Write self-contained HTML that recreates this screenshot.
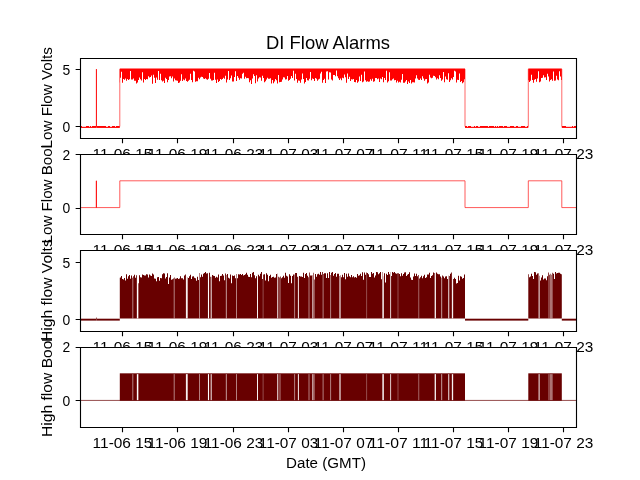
<!DOCTYPE html><html><head><meta charset="utf-8"><style>html,body{margin:0;padding:0;background:#fff;overflow:hidden}svg{display:block;will-change:transform}text{font-family:"Liberation Sans",sans-serif}</style></head><body>
<svg width="640" height="480" viewBox="0 0 640 480">
<rect x="0" y="0" width="640" height="480" fill="#fff"/>
<defs>
<clipPath id="c0"><rect x="80" y="57.6" width="496" height="80.34800000000001"/></clipPath>
<clipPath id="c1"><rect x="80" y="154.017" width="496" height="80.34800000000001"/></clipPath>
<clipPath id="c2"><rect x="80" y="250.435" width="496" height="80.34800000000001"/></clipPath>
<clipPath id="c3"><rect x="80" y="346.852" width="496" height="80.34800000000001"/></clipPath>
</defs>
<rect x="80" y="57.6" width="496" height="80.34800000000001" fill="#fff"/>
<g clip-path="url(#c0)"><rect x="80" y="126.02" width="16.400000000000006" height="1.9" fill="#ff0000"/><path d="M82 126.02h1v0.9h-1ZM83 126.02h1v0.9h-1ZM84 126.02h1v0.9h-1ZM85 126.02h1v0.9h-1ZM89 126.02h1v0.9h-1ZM91 126.02h1v0.9h-1Z" fill="#fff" opacity="0.8"/><rect x="96.4" y="126.02" width="23.39999999999999" height="1.9" fill="#ff0000"/><path d="M106 126.02h1v0.9h-1ZM107 126.02h1v0.9h-1ZM110 126.02h1v0.9h-1ZM111 126.02h1v0.9h-1ZM115 126.02h1v0.9h-1Z" fill="#fff" opacity="0.8"/><rect x="465.0" y="126.02" width="63.299999999999955" height="1.9" fill="#ff0000"/><path d="M467 126.02h1v0.9h-1ZM471 126.02h1v0.9h-1ZM472 126.02h1v0.9h-1ZM473 126.02h1v0.9h-1ZM475 126.02h1v0.9h-1ZM478 126.02h1v0.9h-1ZM479 126.02h1v0.9h-1ZM488 126.02h1v0.9h-1ZM494 126.02h1v0.9h-1ZM496 126.02h1v0.9h-1ZM498 126.02h1v0.9h-1ZM503 126.02h1v0.9h-1ZM507 126.02h1v0.9h-1ZM508 126.02h1v0.9h-1ZM509 126.02h1v0.9h-1ZM514 126.02h1v0.9h-1ZM515 126.02h1v0.9h-1ZM518 126.02h1v0.9h-1ZM519 126.02h1v0.9h-1ZM520 126.02h1v0.9h-1ZM525 126.02h1v0.9h-1ZM526 126.02h1v0.9h-1Z" fill="#fff" opacity="0.8"/><rect x="561.8" y="126.02" width="15.200000000000045" height="1.9" fill="#ff0000"/><path d="M566 126.02h1v0.9h-1ZM567 126.02h1v0.9h-1ZM568 126.02h1v0.9h-1ZM569 126.02h1v0.9h-1ZM570 126.02h1v0.9h-1ZM571 126.02h1v0.9h-1ZM573 126.02h1v0.9h-1Z" fill="#fff" opacity="0.8"/><path d="M119.80 68.48H120.00V82.57H119.80ZM120.00 68.48H121.00V77.80H120.00ZM121.00 68.48H122.00V71.87H121.00ZM122.00 68.48H123.00V82.86H122.00ZM123.00 68.48H124.00V79.03H123.00ZM124.00 68.48H125.00V79.79H124.00ZM125.00 68.48H126.00V78.44H125.00ZM126.00 68.48H127.00V80.69H126.00ZM127.00 68.48H128.00V79.11H127.00ZM128.00 68.48H129.00V80.05H128.00ZM129.00 68.48H130.00V79.36H129.00ZM130.00 68.48H131.00V70.91H130.00ZM131.00 68.48H132.00V79.48H131.00ZM132.00 68.48H133.00V79.41H132.00ZM133.00 68.48H134.00V78.50H133.00ZM134.00 68.48H135.00V80.65H134.00ZM135.00 68.48H136.00V80.64H135.00ZM136.00 68.48H137.00V83.45H136.00ZM137.00 68.48H138.00V82.62H137.00ZM138.00 68.48H139.00V80.08H138.00ZM139.00 68.48H140.00V77.44H139.00ZM140.00 68.48H141.00V79.23H140.00ZM141.00 68.48H142.00V80.53H141.00ZM142.00 68.48H143.00V72.22H142.00ZM143.00 68.48H144.00V82.43H143.00ZM144.00 68.48H145.00V79.08H144.00ZM145.00 68.48H146.00V79.92H145.00ZM146.00 68.48H147.00V79.05H146.00ZM147.00 68.48H148.00V79.35H147.00ZM148.00 68.48H149.00V76.35H148.00ZM149.00 68.48H150.00V77.50H149.00ZM150.00 68.48H151.00V77.04H150.00ZM151.00 68.48H152.00V75.53H151.00ZM152.00 68.48H153.00V83.73H152.00ZM153.00 68.48H154.00V74.81H153.00ZM154.00 68.48H155.00V77.82H154.00ZM155.00 68.48H156.00V82.88H155.00ZM156.00 68.48H157.00V77.41H156.00ZM157.00 68.48H158.00V79.71H157.00ZM158.00 68.48H159.00V70.95H158.00ZM159.00 68.48H160.00V79.99H159.00ZM160.00 68.48H161.00V73.66H160.00ZM161.00 68.48H162.00V80.28H161.00ZM162.00 68.48H163.00V81.38H162.00ZM163.00 68.48H164.00V80.86H163.00ZM164.00 68.48H165.00V82.94H164.00ZM165.00 68.48H166.00V77.77H165.00ZM166.00 68.48H167.00V78.90H166.00ZM167.00 68.48H168.00V82.34H167.00ZM168.00 68.48H169.00V80.00H168.00ZM169.00 68.48H170.00V76.46H169.00ZM170.00 68.48H171.00V76.15H170.00ZM171.00 68.48H172.00V78.34H171.00ZM172.00 68.48H173.00V76.43H172.00ZM173.00 68.48H174.00V81.43H173.00ZM174.00 68.48H175.00V78.52H174.00ZM175.00 68.48H176.00V80.29H175.00ZM176.00 68.48H177.00V80.51H176.00ZM177.00 68.48H178.00V80.70H177.00ZM178.00 68.48H179.00V83.05H178.00ZM179.00 68.48H180.00V82.44H179.00ZM180.00 68.48H181.00V80.76H180.00ZM181.00 68.48H182.00V74.26H181.00ZM182.00 68.48H183.00V81.12H182.00ZM183.00 68.48H184.00V79.46H183.00ZM184.00 68.48H185.00V80.21H184.00ZM185.00 68.48H186.00V78.54H185.00ZM186.00 68.48H187.00V80.97H186.00ZM187.00 68.48H188.00V81.70H187.00ZM188.00 68.48H189.00V80.77H188.00ZM189.00 68.48H190.00V79.82H189.00ZM190.00 68.48H191.00V73.83H190.00ZM191.00 68.48H192.00V80.00H191.00ZM192.00 68.48H193.00V82.13H192.00ZM193.00 68.48H194.00V70.72H193.00ZM194.00 68.48H195.00V71.59H194.00ZM195.00 68.48H196.00V81.80H195.00ZM196.00 68.48H197.00V81.21H196.00ZM197.00 68.48H198.00V81.17H197.00ZM198.00 68.48H199.00V77.70H198.00ZM199.00 68.48H200.00V79.20H199.00ZM200.00 68.48H201.00V77.60H200.00ZM201.00 68.48H202.00V76.68H201.00ZM202.00 68.48H203.00V76.94H202.00ZM203.00 68.48H204.00V78.58H203.00ZM204.00 68.48H205.00V78.99H204.00ZM205.00 68.48H206.00V78.24H205.00ZM206.00 68.48H207.00V79.21H206.00ZM207.00 68.48H208.00V79.70H207.00ZM208.00 68.48H209.00V78.63H208.00ZM209.00 68.48H210.00V73.01H209.00ZM210.00 68.48H211.00V78.83H210.00ZM211.00 68.48H212.00V80.51H211.00ZM212.00 68.48H213.00V80.56H212.00ZM213.00 68.48H214.00V80.01H213.00ZM214.00 68.48H215.00V72.68H214.00ZM215.00 68.48H216.00V79.76H215.00ZM216.00 68.48H217.00V83.08H216.00ZM217.00 68.48H218.00V79.43H217.00ZM218.00 68.48H219.00V82.01H218.00ZM219.00 68.48H220.00V81.07H219.00ZM220.00 68.48H221.00V78.97H220.00ZM221.00 68.48H222.00V79.82H221.00ZM222.00 68.48H223.00V78.88H222.00ZM223.00 68.48H224.00V77.75H223.00ZM224.00 68.48H225.00V78.87H224.00ZM225.00 68.48H226.00V75.66H225.00ZM226.00 68.48H227.00V82.38H226.00ZM227.00 68.48H228.00V79.59H227.00ZM228.00 68.48H229.00V71.03H228.00ZM229.00 68.48H230.00V79.89H229.00ZM230.00 68.48H231.00V78.37H230.00ZM231.00 68.48H232.00V75.60H231.00ZM232.00 68.48H233.00V81.49H232.00ZM233.00 68.48H234.00V81.38H233.00ZM234.00 68.48H235.00V76.91H234.00ZM235.00 68.48H236.00V71.16H235.00ZM236.00 68.48H237.00V80.95H236.00ZM237.00 68.48H238.00V76.01H237.00ZM238.00 68.48H239.00V77.74H238.00ZM239.00 68.48H240.00V79.65H239.00ZM240.00 68.48H241.00V78.25H240.00ZM241.00 68.48H242.00V78.61H241.00ZM242.00 68.48H243.00V73.67H242.00ZM243.00 68.48H244.00V72.73H243.00ZM244.00 68.48H245.00V78.76H244.00ZM245.00 68.48H246.00V76.77H245.00ZM246.00 68.48H247.00V78.27H246.00ZM247.00 68.48H248.00V77.90H247.00ZM248.00 68.48H249.00V78.14H248.00ZM249.00 68.48H250.00V82.13H249.00ZM250.00 68.48H251.00V80.21H250.00ZM251.00 68.48H252.00V83.96H251.00ZM252.00 68.48H253.00V78.55H252.00ZM253.00 68.48H254.00V74.25H253.00ZM254.00 68.48H255.00V76.11H254.00ZM255.00 68.48H256.00V83.34H255.00ZM256.00 68.48H257.00V75.19H256.00ZM257.00 68.48H258.00V81.62H257.00ZM258.00 68.48H259.00V78.46H258.00ZM259.00 68.48H260.00V77.25H259.00ZM260.00 68.48H261.00V77.51H260.00ZM261.00 68.48H262.00V80.81H261.00ZM262.00 68.48H263.00V75.74H262.00ZM263.00 68.48H264.00V77.89H263.00ZM264.00 68.48H265.00V82.33H264.00ZM265.00 68.48H266.00V81.24H265.00ZM266.00 68.48H267.00V79.46H266.00ZM267.00 68.48H268.00V77.66H267.00ZM268.00 68.48H269.00V78.66H268.00ZM269.00 68.48H270.00V78.74H269.00ZM270.00 68.48H271.00V78.33H270.00ZM271.00 68.48H272.00V83.56H271.00ZM272.00 68.48H273.00V80.02H272.00ZM273.00 68.48H274.00V83.29H273.00ZM274.00 68.48H275.00V81.55H274.00ZM275.00 68.48H276.00V79.09H275.00ZM276.00 68.48H277.00V80.28H276.00ZM277.00 68.48H278.00V83.46H277.00ZM278.00 68.48H279.00V75.09H278.00ZM279.00 68.48H280.00V82.23H279.00ZM280.00 68.48H281.00V81.97H280.00ZM281.00 68.48H282.00V81.86H281.00ZM282.00 68.48H283.00V79.54H282.00ZM283.00 68.48H284.00V77.15H283.00ZM284.00 68.48H285.00V77.43H284.00ZM285.00 68.48H286.00V79.43H285.00ZM286.00 68.48H287.00V79.37H286.00ZM287.00 68.48H288.00V76.12H287.00ZM288.00 68.48H289.00V80.64H288.00ZM289.00 68.48H290.00V80.12H289.00ZM290.00 68.48H291.00V78.71H290.00ZM291.00 68.48H292.00V75.91H291.00ZM292.00 68.48H293.00V77.97H292.00ZM293.00 68.48H294.00V70.68H293.00ZM294.00 68.48H295.00V80.38H294.00ZM295.00 68.48H296.00V73.66H295.00ZM296.00 68.48H297.00V78.97H296.00ZM297.00 68.48H298.00V82.72H297.00ZM298.00 68.48H299.00V80.59H298.00ZM299.00 68.48H300.00V80.68H299.00ZM300.00 68.48H301.00V82.85H300.00ZM301.00 68.48H302.00V79.41H301.00ZM302.00 68.48H303.00V73.62H302.00ZM303.00 68.48H304.00V78.88H303.00ZM304.00 68.48H305.00V83.57H304.00ZM305.00 68.48H306.00V81.91H305.00ZM306.00 68.48H307.00V77.94H306.00ZM307.00 68.48H308.00V80.31H307.00ZM308.00 68.48H309.00V80.49H308.00ZM309.00 68.48H310.00V78.69H309.00ZM310.00 68.48H311.00V72.02H310.00ZM311.00 68.48H312.00V80.22H311.00ZM312.00 68.48H313.00V78.43H312.00ZM313.00 68.48H314.00V79.11H313.00ZM314.00 68.48H315.00V80.95H314.00ZM315.00 68.48H316.00V78.10H315.00ZM316.00 68.48H317.00V78.83H316.00ZM317.00 68.48H318.00V80.80H317.00ZM318.00 68.48H319.00V79.47H318.00ZM319.00 68.48H320.00V78.69H319.00ZM320.00 68.48H321.00V73.49H320.00ZM321.00 68.48H322.00V71.73H321.00ZM322.00 68.48H323.00V82.70H322.00ZM323.00 68.48H324.00V79.96H323.00ZM324.00 68.48H325.00V78.77H324.00ZM325.00 68.48H326.00V82.88H325.00ZM326.00 68.48H327.00V71.61H326.00ZM327.00 68.48H328.00V71.24H327.00ZM328.00 68.48H329.00V79.62H328.00ZM329.00 68.48H330.00V72.36H329.00ZM330.00 68.48H331.00V72.48H330.00ZM331.00 68.48H332.00V79.43H331.00ZM332.00 68.48H333.00V80.59H332.00ZM333.00 68.48H334.00V75.08H333.00ZM334.00 68.48H335.00V74.92H334.00ZM335.00 68.48H336.00V76.31H335.00ZM336.00 68.48H337.00V70.59H336.00ZM337.00 68.48H338.00V76.36H337.00ZM338.00 68.48H339.00V78.23H338.00ZM339.00 68.48H340.00V79.98H339.00ZM340.00 68.48H341.00V78.48H340.00ZM341.00 68.48H342.00V80.15H341.00ZM342.00 68.48H343.00V77.66H342.00ZM343.00 68.48H344.00V78.20H343.00ZM344.00 68.48H345.00V74.62H344.00ZM345.00 68.48H346.00V77.27H345.00ZM346.00 68.48H347.00V82.74H346.00ZM347.00 68.48H348.00V73.49H347.00ZM348.00 68.48H349.00V79.11H348.00ZM349.00 68.48H350.00V76.71H349.00ZM350.00 68.48H351.00V81.01H350.00ZM351.00 68.48H352.00V79.36H351.00ZM352.00 68.48H353.00V79.60H352.00ZM353.00 68.48H354.00V78.99H353.00ZM354.00 68.48H355.00V81.95H354.00ZM355.00 68.48H356.00V82.23H355.00ZM356.00 68.48H357.00V79.99H356.00ZM357.00 68.48H358.00V82.78H357.00ZM358.00 68.48H359.00V81.56H358.00ZM359.00 68.48H360.00V76.39H359.00ZM360.00 68.48H361.00V81.00H360.00ZM361.00 68.48H362.00V74.86H361.00ZM362.00 68.48H363.00V82.14H362.00ZM363.00 68.48H364.00V81.62H363.00ZM364.00 68.48H365.00V71.47H364.00ZM365.00 68.48H366.00V80.28H365.00ZM366.00 68.48H367.00V81.73H366.00ZM367.00 68.48H368.00V81.13H367.00ZM368.00 68.48H369.00V81.80H368.00ZM369.00 68.48H370.00V81.57H369.00ZM370.00 68.48H371.00V79.35H370.00ZM371.00 68.48H372.00V80.64H371.00ZM372.00 68.48H373.00V78.67H372.00ZM373.00 68.48H374.00V81.63H373.00ZM374.00 68.48H375.00V81.33H374.00ZM375.00 68.48H376.00V77.97H375.00ZM376.00 68.48H377.00V77.99H376.00ZM377.00 68.48H378.00V79.36H377.00ZM378.00 68.48H379.00V78.47H378.00ZM379.00 68.48H380.00V81.88H379.00ZM380.00 68.48H381.00V78.56H380.00ZM381.00 68.48H382.00V79.37H381.00ZM382.00 68.48H383.00V76.97H382.00ZM383.00 68.48H384.00V82.17H383.00ZM384.00 68.48H385.00V78.07H384.00ZM385.00 68.48H386.00V79.95H385.00ZM386.00 68.48H387.00V70.83H386.00ZM387.00 68.48H388.00V82.48H387.00ZM388.00 68.48H389.00V81.23H388.00ZM389.00 68.48H390.00V72.32H389.00ZM390.00 68.48H391.00V80.49H390.00ZM391.00 68.48H392.00V80.51H391.00ZM392.00 68.48H393.00V79.27H392.00ZM393.00 68.48H394.00V78.60H393.00ZM394.00 68.48H395.00V80.21H394.00ZM395.00 68.48H396.00V79.92H395.00ZM396.00 68.48H397.00V82.57H396.00ZM397.00 68.48H398.00V80.69H397.00ZM398.00 68.48H399.00V82.40H398.00ZM399.00 68.48H400.00V81.77H399.00ZM400.00 68.48H401.00V82.54H400.00ZM401.00 68.48H402.00V79.82H401.00ZM402.00 68.48H403.00V74.00H402.00ZM403.00 68.48H404.00V82.85H403.00ZM404.00 68.48H405.00V82.74H404.00ZM405.00 68.48H406.00V81.48H405.00ZM406.00 68.48H407.00V80.03H406.00ZM407.00 68.48H408.00V83.89H407.00ZM408.00 68.48H409.00V81.50H408.00ZM409.00 68.48H410.00V82.92H409.00ZM410.00 68.48H411.00V79.90H410.00ZM411.00 68.48H412.00V83.43H411.00ZM412.00 68.48H413.00V82.25H412.00ZM413.00 68.48H414.00V82.36H413.00ZM414.00 68.48H415.00V82.44H414.00ZM415.00 68.48H416.00V78.41H415.00ZM416.00 68.48H417.00V75.26H416.00ZM417.00 68.48H418.00V78.48H417.00ZM418.00 68.48H419.00V79.79H418.00ZM419.00 68.48H420.00V80.06H419.00ZM420.00 68.48H421.00V78.43H420.00ZM421.00 68.48H422.00V79.92H421.00ZM422.00 68.48H423.00V76.29H422.00ZM423.00 68.48H424.00V78.40H423.00ZM424.00 68.48H425.00V80.76H424.00ZM425.00 68.48H426.00V79.18H425.00ZM426.00 68.48H427.00V78.99H426.00ZM427.00 68.48H428.00V83.60H427.00ZM428.00 68.48H429.00V82.38H428.00ZM429.00 68.48H430.00V74.68H429.00ZM430.00 68.48H431.00V77.57H430.00ZM431.00 68.48H432.00V78.22H431.00ZM432.00 68.48H433.00V77.64H432.00ZM433.00 68.48H434.00V75.76H433.00ZM434.00 68.48H435.00V75.96H434.00ZM435.00 68.48H436.00V77.29H435.00ZM436.00 68.48H437.00V79.50H436.00ZM437.00 68.48H438.00V78.25H437.00ZM438.00 68.48H439.00V79.17H438.00ZM439.00 68.48H440.00V75.28H439.00ZM440.00 68.48H441.00V78.06H440.00ZM441.00 68.48H442.00V80.87H441.00ZM442.00 68.48H443.00V79.41H442.00ZM443.00 68.48H444.00V71.98H443.00ZM444.00 68.48H445.00V82.27H444.00ZM445.00 68.48H446.00V76.46H445.00ZM446.00 68.48H447.00V79.14H446.00ZM447.00 68.48H448.00V79.80H447.00ZM448.00 68.48H449.00V73.28H448.00ZM449.00 68.48H450.00V81.97H449.00ZM450.00 68.48H451.00V80.28H450.00ZM451.00 68.48H452.00V78.25H451.00ZM452.00 68.48H453.00V79.62H452.00ZM453.00 68.48H454.00V77.06H453.00ZM454.00 68.48H455.00V70.71H454.00ZM455.00 68.48H456.00V71.48H455.00ZM456.00 68.48H457.00V82.43H456.00ZM457.00 68.48H458.00V79.68H457.00ZM458.00 68.48H459.00V79.91H458.00ZM459.00 68.48H460.00V73.47H459.00ZM460.00 68.48H461.00V81.88H460.00ZM461.00 68.48H462.00V80.89H461.00ZM462.00 68.48H463.00V83.23H462.00ZM463.00 68.48H464.00V82.31H463.00ZM464.00 68.48H465.00V79.34H464.00ZM528.30 68.48H529.00V80.19H528.30ZM529.00 68.48H530.00V81.92H529.00ZM530.00 68.48H531.00V80.83H530.00ZM531.00 68.48H532.00V74.72H531.00ZM532.00 68.48H533.00V80.11H532.00ZM533.00 68.48H534.00V82.73H533.00ZM534.00 68.48H535.00V79.71H534.00ZM535.00 68.48H536.00V78.99H535.00ZM536.00 68.48H537.00V81.68H536.00ZM537.00 68.48H538.00V78.58H537.00ZM538.00 68.48H539.00V71.35H538.00ZM539.00 68.48H540.00V82.14H539.00ZM540.00 68.48H541.00V81.55H540.00ZM541.00 68.48H542.00V78.11H541.00ZM542.00 68.48H543.00V77.68H542.00ZM543.00 68.48H544.00V75.25H543.00ZM544.00 68.48H545.00V77.50H544.00ZM545.00 68.48H546.00V77.13H545.00ZM546.00 68.48H547.00V79.93H546.00ZM547.00 68.48H548.00V73.84H547.00ZM548.00 68.48H549.00V76.45H548.00ZM549.00 68.48H550.00V81.44H549.00ZM550.00 68.48H551.00V79.93H550.00ZM551.00 68.48H552.00V79.24H551.00ZM552.00 68.48H553.00V80.64H552.00ZM553.00 68.48H554.00V71.46H553.00ZM554.00 68.48H555.00V80.79H554.00ZM555.00 68.48H556.00V80.44H555.00ZM556.00 68.48H557.00V75.80H556.00ZM557.00 68.48H558.00V79.38H557.00ZM558.00 68.48H559.00V80.33H558.00ZM559.00 68.48H560.00V71.33H559.00ZM560.00 68.48H561.00V76.42H560.00ZM561.00 68.48H561.80V79.89H561.00Z" fill="#ff0000"/><path d="M119.8 126.46971428571429V69.07828571428571" stroke="#ff0000" stroke-width="0.6" fill="none"/><path d="M465.0 126.46971428571429V69.07828571428571" stroke="#ff0000" stroke-width="0.6" fill="none"/><path d="M528.3 126.46971428571429V69.07828571428571" stroke="#ff0000" stroke-width="0.6" fill="none"/><path d="M561.8 126.46971428571429V69.07828571428571" stroke="#ff0000" stroke-width="0.6" fill="none"/><path d="M96.4 126.46971428571429V69.07828571428571" stroke="#ff0000" stroke-width="1" fill="none"/></g>
<path d="M80.5 58.5H576.5M80.5 138.5H576.5M80.5 58.5V138.5M576.5 58.5V138.5" stroke="#000" stroke-width="1.11" fill="none" stroke-linecap="square"/>
<path d="M122.5 138.5v4.86M177.5 138.5v4.86M233.5 138.5v4.86M288.5 138.5v4.86M343.5 138.5v4.86M398.5 138.5v4.86M453.5 138.5v4.86M508.5 138.5v4.86M563.5 138.5v4.86" stroke="#000" stroke-width="1.11" fill="none"/>
<path d="M80.5 126.5h-4.86M80.5 69.5h-4.86" stroke="#000" stroke-width="1.11" fill="none"/>
<text x="122.5" y="158.668" font-size="13.889" text-anchor="middle" textLength="59.74" lengthAdjust="spacingAndGlyphs">11-06 15</text>
<text x="177.5" y="158.668" font-size="13.889" text-anchor="middle" textLength="59.88" lengthAdjust="spacingAndGlyphs">11-06 19</text>
<text x="233.5" y="158.668" font-size="13.889" text-anchor="middle" textLength="59.62" lengthAdjust="spacingAndGlyphs">11-06 23</text>
<text x="288.5" y="158.668" font-size="13.889" text-anchor="middle" textLength="59.5" lengthAdjust="spacingAndGlyphs">11-07 03</text>
<text x="343.5" y="158.668" font-size="13.889" text-anchor="middle" textLength="59.5" lengthAdjust="spacingAndGlyphs">11-07 07</text>
<text x="398.5" y="158.668" font-size="13.889" text-anchor="middle" textLength="59.75" lengthAdjust="spacingAndGlyphs">11-07 11</text>
<text x="453.5" y="158.668" font-size="13.889" text-anchor="middle" textLength="59.62" lengthAdjust="spacingAndGlyphs">11-07 15</text>
<text x="508.5" y="158.668" font-size="13.889" text-anchor="middle" textLength="59.76" lengthAdjust="spacingAndGlyphs">11-07 19</text>
<text x="563.5" y="158.668" font-size="13.889" text-anchor="middle" textLength="59.5" lengthAdjust="spacingAndGlyphs">11-07 23</text>
<text x="70.3" y="132.0697142857143" font-size="13.889" text-anchor="end">0</text>
<text x="70.3" y="74.6782857142857" font-size="13.889" text-anchor="end">5</text>
<text x="0" y="0" font-size="13.889" text-anchor="middle" textLength="101.25" lengthAdjust="spacingAndGlyphs" transform="translate(51.9 97.774) rotate(-90)">Low Flow Volts</text>
<text x="328" y="48.6" font-size="17.8" text-anchor="middle" textLength="123.875" lengthAdjust="spacingAndGlyphs">DI Flow Alarms</text>
<rect x="80" y="154.017" width="496" height="80.34800000000001" fill="#fff"/>
<g clip-path="url(#c1)"><path d="M80 207.58233333333334H96.4V180.79966666666667V207.58233333333334H119.8V180.79966666666667H465.0V207.58233333333334H528.3V180.79966666666667H561.8V207.58233333333334H577" stroke="#ff0000" stroke-width="0.65" fill="none"/><path d="M96.4 207.58233333333334V180.79966666666667" stroke="#ff0000" stroke-width="0.5" fill="none"/></g>
<path d="M80.5 154.5H576.5M80.5 234.5H576.5M80.5 154.5V234.5M576.5 154.5V234.5" stroke="#000" stroke-width="1.11" fill="none" stroke-linecap="square"/>
<path d="M122.5 234.5v4.86M177.5 234.5v4.86M233.5 234.5v4.86M288.5 234.5v4.86M343.5 234.5v4.86M398.5 234.5v4.86M453.5 234.5v4.86M508.5 234.5v4.86M563.5 234.5v4.86" stroke="#000" stroke-width="1.11" fill="none"/>
<path d="M80.5 208.5h-4.86M80.5 154.5h-4.86" stroke="#000" stroke-width="1.11" fill="none"/>
<text x="122.5" y="255.085" font-size="13.889" text-anchor="middle" textLength="59.74" lengthAdjust="spacingAndGlyphs">11-06 15</text>
<text x="177.5" y="255.085" font-size="13.889" text-anchor="middle" textLength="59.88" lengthAdjust="spacingAndGlyphs">11-06 19</text>
<text x="233.5" y="255.085" font-size="13.889" text-anchor="middle" textLength="59.62" lengthAdjust="spacingAndGlyphs">11-06 23</text>
<text x="288.5" y="255.085" font-size="13.889" text-anchor="middle" textLength="59.5" lengthAdjust="spacingAndGlyphs">11-07 03</text>
<text x="343.5" y="255.085" font-size="13.889" text-anchor="middle" textLength="59.5" lengthAdjust="spacingAndGlyphs">11-07 07</text>
<text x="398.5" y="255.085" font-size="13.889" text-anchor="middle" textLength="59.75" lengthAdjust="spacingAndGlyphs">11-07 11</text>
<text x="453.5" y="255.085" font-size="13.889" text-anchor="middle" textLength="59.62" lengthAdjust="spacingAndGlyphs">11-07 15</text>
<text x="508.5" y="255.085" font-size="13.889" text-anchor="middle" textLength="59.76" lengthAdjust="spacingAndGlyphs">11-07 19</text>
<text x="563.5" y="255.085" font-size="13.889" text-anchor="middle" textLength="59.5" lengthAdjust="spacingAndGlyphs">11-07 23</text>
<text x="70.3" y="213.18233333333333" font-size="13.889" text-anchor="end">0</text>
<text x="70.3" y="159.617" font-size="13.889" text-anchor="end">2</text>
<text x="0" y="0" font-size="13.889" text-anchor="middle" textLength="98.38" lengthAdjust="spacingAndGlyphs" transform="translate(51.9 194.191) rotate(-90)">Low Flow Bool</text>
<rect x="80" y="250.435" width="496" height="80.34800000000001" fill="#fff"/>
<g clip-path="url(#c2)"><rect x="80" y="318.70471428571426" width="16.400000000000006" height="1.9" fill="#680000"/><rect x="96.4" y="318.70471428571426" width="23.39999999999999" height="1.9" fill="#680000"/><rect x="465.0" y="318.70471428571426" width="63.299999999999955" height="1.9" fill="#680000"/><rect x="561.8" y="318.70471428571426" width="15.200000000000045" height="1.9" fill="#680000"/><path d="M95.9 318.70L96.4 317.10L96.9 318.70Z" fill="#680000"/><path d="M119.80 277.81H120.00V318.50H119.80ZM120.00 277.48H121.00V318.50H120.00ZM121.00 275.88H122.00V318.50H121.00ZM122.00 279.10H123.00V318.50H122.00ZM123.00 279.51H124.00V318.50H123.00ZM124.00 278.04H125.00V318.50H124.00ZM125.00 280.43H126.00V318.50H125.00ZM126.00 274.35H127.00V318.50H126.00ZM127.00 278.75H128.00V318.50H127.00ZM128.00 276.18H129.00V318.50H128.00ZM129.00 275.12H130.00V318.50H129.00ZM130.00 278.87H131.00V318.50H130.00ZM131.00 275.44H132.00V318.50H131.00ZM132.00 277.65H133.00V318.50H132.00ZM133.00 276.27H134.00V318.50H133.00ZM134.00 274.75H135.00V318.50H134.00ZM135.00 277.69H136.00V318.50H135.00ZM136.00 275.32H137.00V318.50H136.00ZM137.00 280.59H138.00V318.50H137.00ZM138.00 283.21H139.00V318.50H138.00ZM139.00 275.15H140.00V318.50H139.00ZM140.00 277.14H141.00V318.50H140.00ZM141.00 277.53H142.00V318.50H141.00ZM142.00 274.53H143.00V318.50H142.00ZM143.00 274.88H144.00V318.50H143.00ZM144.00 275.49H145.00V318.50H144.00ZM145.00 275.50H146.00V318.50H145.00ZM146.00 274.17H147.00V318.50H146.00ZM147.00 274.55H148.00V318.50H147.00ZM148.00 277.45H149.00V318.50H148.00ZM149.00 274.44H150.00V318.50H149.00ZM150.00 275.38H151.00V318.50H150.00ZM151.00 276.04H152.00V318.50H151.00ZM152.00 273.46H153.00V318.50H152.00ZM153.00 274.51H154.00V318.50H153.00ZM154.00 278.47H155.00V318.50H154.00ZM155.00 278.78H156.00V318.50H155.00ZM156.00 281.35H157.00V318.50H156.00ZM157.00 277.22H158.00V318.50H157.00ZM158.00 277.12H159.00V318.50H158.00ZM159.00 280.79H160.00V318.50H159.00ZM160.00 278.07H161.00V318.50H160.00ZM161.00 278.13H162.00V318.50H161.00ZM162.00 274.16H163.00V318.50H162.00ZM163.00 273.25H164.00V318.50H163.00ZM164.00 273.38H165.00V318.50H164.00ZM165.00 278.56H166.00V318.50H165.00ZM166.00 276.89H167.00V318.50H166.00ZM167.00 273.36H168.00V318.50H167.00ZM168.00 284.09H169.00V318.50H168.00ZM169.00 277.61H170.00V318.50H169.00ZM170.00 275.01H171.00V318.50H170.00ZM171.00 279.63H172.00V318.50H171.00ZM172.00 279.31H173.00V318.50H172.00ZM173.00 278.47H174.00V318.50H173.00ZM174.00 277.57H175.00V318.50H174.00ZM175.00 278.79H176.00V318.50H175.00ZM176.00 278.52H177.00V318.50H176.00ZM177.00 278.12H178.00V318.50H177.00ZM178.00 279.11H179.00V318.50H178.00ZM179.00 278.59H180.00V318.50H179.00ZM180.00 276.35H181.00V318.50H180.00ZM181.00 278.20H182.00V318.50H181.00ZM182.00 278.26H183.00V318.50H182.00ZM183.00 279.57H184.00V318.50H183.00ZM184.00 275.62H185.00V318.50H184.00ZM185.00 274.58H186.00V318.50H185.00ZM186.00 276.31H187.00V318.50H186.00ZM187.00 277.27H188.00V318.50H187.00ZM188.00 277.96H189.00V318.50H188.00ZM189.00 276.34H190.00V318.50H189.00ZM190.00 274.73H191.00V318.50H190.00ZM191.00 278.88H192.00V318.50H191.00ZM192.00 276.42H193.00V318.50H192.00ZM193.00 276.14H194.00V318.50H193.00ZM194.00 277.65H195.00V318.50H194.00ZM195.00 278.35H196.00V318.50H195.00ZM196.00 280.63H197.00V318.50H196.00ZM197.00 276.75H198.00V318.50H197.00ZM198.00 280.02H199.00V318.50H198.00ZM199.00 272.88H200.00V318.50H199.00ZM200.00 277.37H201.00V318.50H200.00ZM201.00 274.56H202.00V318.50H201.00ZM202.00 276.74H203.00V318.50H202.00ZM203.00 273.78H204.00V318.50H203.00ZM204.00 273.10H205.00V318.50H204.00ZM205.00 272.00H206.00V318.50H205.00ZM206.00 273.46H207.00V318.50H206.00ZM207.00 273.25H208.00V318.50H207.00ZM208.00 272.25H209.00V318.50H208.00ZM209.00 272.72H210.00V318.50H209.00ZM210.00 276.85H211.00V318.50H210.00ZM211.00 276.68H212.00V318.50H211.00ZM212.00 275.04H213.00V318.50H212.00ZM213.00 275.79H214.00V318.50H213.00ZM214.00 275.89H215.00V318.50H214.00ZM215.00 277.73H216.00V318.50H215.00ZM216.00 276.65H217.00V318.50H216.00ZM217.00 277.44H218.00V318.50H217.00ZM218.00 274.52H219.00V318.50H218.00ZM219.00 281.23H220.00V318.50H219.00ZM220.00 276.01H221.00V318.50H220.00ZM221.00 275.75H222.00V318.50H221.00ZM222.00 273.92H223.00V318.50H222.00ZM223.00 275.45H224.00V318.50H223.00ZM224.00 280.36H225.00V318.50H224.00ZM225.00 273.54H226.00V318.50H225.00ZM226.00 275.02H227.00V318.50H226.00ZM227.00 274.05H228.00V318.50H227.00ZM228.00 277.63H229.00V318.50H228.00ZM229.00 278.44H230.00V318.50H229.00ZM230.00 274.46H231.00V318.50H230.00ZM231.00 283.35H232.00V318.50H231.00ZM232.00 275.38H233.00V318.50H232.00ZM233.00 275.88H234.00V318.50H233.00ZM234.00 275.47H235.00V318.50H234.00ZM235.00 278.15H236.00V318.50H235.00ZM236.00 273.92H237.00V318.50H236.00ZM237.00 278.35H238.00V318.50H237.00ZM238.00 274.30H239.00V318.50H238.00ZM239.00 274.52H240.00V318.50H239.00ZM240.00 274.05H241.00V318.50H240.00ZM241.00 274.96H242.00V318.50H241.00ZM242.00 273.93H243.00V318.50H242.00ZM243.00 275.43H244.00V318.50H243.00ZM244.00 275.10H245.00V318.50H244.00ZM245.00 274.37H246.00V318.50H245.00ZM246.00 272.87H247.00V318.50H246.00ZM247.00 274.87H248.00V318.50H247.00ZM248.00 276.78H249.00V318.50H248.00ZM249.00 276.89H250.00V318.50H249.00ZM250.00 274.00H251.00V318.50H250.00ZM251.00 277.14H252.00V318.50H251.00ZM252.00 272.72H253.00V318.50H252.00ZM253.00 272.00H254.00V318.50H253.00ZM254.00 275.36H255.00V318.50H254.00ZM255.00 278.19H256.00V318.50H255.00ZM256.00 276.33H257.00V318.50H256.00ZM257.00 273.73H258.00V318.50H257.00ZM258.00 274.78H259.00V318.50H258.00ZM259.00 276.24H260.00V318.50H259.00ZM260.00 273.85H261.00V318.50H260.00ZM261.00 272.00H262.00V318.50H261.00ZM262.00 279.05H263.00V318.50H262.00ZM263.00 274.54H264.00V318.50H263.00ZM264.00 274.28H265.00V318.50H264.00ZM265.00 280.54H266.00V318.50H265.00ZM266.00 273.20H267.00V318.50H266.00ZM267.00 274.66H268.00V318.50H267.00ZM268.00 281.18H269.00V318.50H268.00ZM269.00 276.10H270.00V318.50H269.00ZM270.00 274.68H271.00V318.50H270.00ZM271.00 277.64H272.00V318.50H271.00ZM272.00 276.90H273.00V318.50H272.00ZM273.00 276.83H274.00V318.50H273.00ZM274.00 277.71H275.00V318.50H274.00ZM275.00 277.42H276.00V318.50H275.00ZM276.00 274.01H277.00V318.50H276.00ZM277.00 273.54H278.00V318.50H277.00ZM278.00 276.85H279.00V318.50H278.00ZM279.00 277.61H280.00V318.50H279.00ZM280.00 276.39H281.00V318.50H280.00ZM281.00 278.33H282.00V318.50H281.00ZM282.00 277.30H283.00V318.50H282.00ZM283.00 275.77H284.00V318.50H283.00ZM284.00 277.73H285.00V318.50H284.00ZM285.00 272.69H286.00V318.50H285.00ZM286.00 275.72H287.00V318.50H286.00ZM287.00 276.49H288.00V318.50H287.00ZM288.00 283.05H289.00V318.50H288.00ZM289.00 274.17H290.00V318.50H289.00ZM290.00 275.79H291.00V318.50H290.00ZM291.00 283.23H292.00V318.50H291.00ZM292.00 275.91H293.00V318.50H292.00ZM293.00 274.46H294.00V318.50H293.00ZM294.00 274.56H295.00V318.50H294.00ZM295.00 272.88H296.00V318.50H295.00ZM296.00 273.02H297.00V318.50H296.00ZM297.00 276.84H298.00V318.50H297.00ZM298.00 276.81H299.00V318.50H298.00ZM299.00 275.97H300.00V318.50H299.00ZM300.00 276.52H301.00V318.50H300.00ZM301.00 276.57H302.00V318.50H301.00ZM302.00 276.89H303.00V318.50H302.00ZM303.00 272.66H304.00V318.50H303.00ZM304.00 278.00H305.00V318.50H304.00ZM305.00 273.89H306.00V318.50H305.00ZM306.00 272.99H307.00V318.50H306.00ZM307.00 275.64H308.00V318.50H307.00ZM308.00 277.32H309.00V318.50H308.00ZM309.00 272.53H310.00V318.50H309.00ZM310.00 275.58H311.00V318.50H310.00ZM311.00 275.49H312.00V318.50H311.00ZM312.00 275.31H313.00V318.50H312.00ZM313.00 272.82H314.00V318.50H313.00ZM314.00 279.45H315.00V318.50H314.00ZM315.00 273.90H316.00V318.50H315.00ZM316.00 276.79H317.00V318.50H316.00ZM317.00 274.23H318.00V318.50H317.00ZM318.00 273.67H319.00V318.50H318.00ZM319.00 274.85H320.00V318.50H319.00ZM320.00 272.00H321.00V318.50H320.00ZM321.00 274.70H322.00V318.50H321.00ZM322.00 272.02H323.00V318.50H322.00ZM323.00 273.97H324.00V318.50H323.00ZM324.00 273.28H325.00V318.50H324.00ZM325.00 273.36H326.00V318.50H325.00ZM326.00 278.02H327.00V318.50H326.00ZM327.00 273.31H328.00V318.50H327.00ZM328.00 278.08H329.00V318.50H328.00ZM329.00 272.00H330.00V318.50H329.00ZM330.00 274.94H331.00V318.50H330.00ZM331.00 272.72H332.00V318.50H331.00ZM332.00 272.00H333.00V318.50H332.00ZM333.00 275.79H334.00V318.50H333.00ZM334.00 273.98H335.00V318.50H334.00ZM335.00 273.10H336.00V318.50H335.00ZM336.00 276.77H337.00V318.50H336.00ZM337.00 273.80H338.00V318.50H337.00ZM338.00 273.79H339.00V318.50H338.00ZM339.00 276.05H340.00V318.50H339.00ZM340.00 275.34H341.00V318.50H340.00ZM341.00 277.32H342.00V318.50H341.00ZM342.00 274.68H343.00V318.50H342.00ZM343.00 277.16H344.00V318.50H343.00ZM344.00 272.92H345.00V318.50H344.00ZM345.00 279.20H346.00V318.50H345.00ZM346.00 273.85H347.00V318.50H346.00ZM347.00 276.63H348.00V318.50H347.00ZM348.00 273.48H349.00V318.50H348.00ZM349.00 276.34H350.00V318.50H349.00ZM350.00 277.16H351.00V318.50H350.00ZM351.00 274.93H352.00V318.50H351.00ZM352.00 277.19H353.00V318.50H352.00ZM353.00 276.31H354.00V318.50H353.00ZM354.00 277.50H355.00V318.50H354.00ZM355.00 276.96H356.00V318.50H355.00ZM356.00 277.84H357.00V318.50H356.00ZM357.00 274.04H358.00V318.50H357.00ZM358.00 275.70H359.00V318.50H358.00ZM359.00 275.23H360.00V318.50H359.00ZM360.00 273.77H361.00V318.50H360.00ZM361.00 275.99H362.00V318.50H361.00ZM362.00 272.31H363.00V318.50H362.00ZM363.00 279.71H364.00V318.50H363.00ZM364.00 272.56H365.00V318.50H364.00ZM365.00 274.77H366.00V318.50H365.00ZM366.00 272.59H367.00V318.50H366.00ZM367.00 273.08H368.00V318.50H367.00ZM368.00 274.30H369.00V318.50H368.00ZM369.00 276.94H370.00V318.50H369.00ZM370.00 277.00H371.00V318.50H370.00ZM371.00 272.00H372.00V318.50H371.00ZM372.00 273.71H373.00V318.50H372.00ZM373.00 272.98H374.00V318.50H373.00ZM374.00 277.48H375.00V318.50H374.00ZM375.00 275.41H376.00V318.50H375.00ZM376.00 272.11H377.00V318.50H376.00ZM377.00 272.27H378.00V318.50H377.00ZM378.00 274.19H379.00V318.50H378.00ZM379.00 273.27H380.00V318.50H379.00ZM380.00 272.00H381.00V318.50H380.00ZM381.00 279.31H382.00V318.50H381.00ZM382.00 272.03H383.00V318.50H382.00ZM383.00 276.33H384.00V318.50H383.00ZM384.00 273.36H385.00V318.50H384.00ZM385.00 282.51H386.00V318.50H385.00ZM386.00 273.86H387.00V318.50H386.00ZM387.00 274.89H388.00V318.50H387.00ZM388.00 272.00H389.00V318.50H388.00ZM389.00 274.20H390.00V318.50H389.00ZM390.00 272.00H391.00V318.50H390.00ZM391.00 275.95H392.00V318.50H391.00ZM392.00 272.00H393.00V318.50H392.00ZM393.00 272.84H394.00V318.50H393.00ZM394.00 272.00H395.00V318.50H394.00ZM395.00 273.14H396.00V318.50H395.00ZM396.00 273.72H397.00V318.50H396.00ZM397.00 273.30H398.00V318.50H397.00ZM398.00 273.21H399.00V318.50H398.00ZM399.00 273.98H400.00V318.50H399.00ZM400.00 276.14H401.00V318.50H400.00ZM401.00 273.33H402.00V318.50H401.00ZM402.00 275.76H403.00V318.50H402.00ZM403.00 273.93H404.00V318.50H403.00ZM404.00 272.55H405.00V318.50H404.00ZM405.00 272.34H406.00V318.50H405.00ZM406.00 276.02H407.00V318.50H406.00ZM407.00 274.83H408.00V318.50H407.00ZM408.00 274.11H409.00V318.50H408.00ZM409.00 272.14H410.00V318.50H409.00ZM410.00 277.53H411.00V318.50H410.00ZM411.00 279.83H412.00V318.50H411.00ZM412.00 280.02H413.00V318.50H412.00ZM413.00 276.56H414.00V318.50H413.00ZM414.00 273.44H415.00V318.50H414.00ZM415.00 276.00H416.00V318.50H415.00ZM416.00 273.77H417.00V318.50H416.00ZM417.00 276.28H418.00V318.50H417.00ZM418.00 274.88H419.00V318.50H418.00ZM419.00 278.40H420.00V318.50H419.00ZM420.00 277.24H421.00V318.50H420.00ZM421.00 275.85H422.00V318.50H421.00ZM422.00 278.19H423.00V318.50H422.00ZM423.00 276.33H424.00V318.50H423.00ZM424.00 274.70H425.00V318.50H424.00ZM425.00 278.02H426.00V318.50H425.00ZM426.00 277.21H427.00V318.50H426.00ZM427.00 274.52H428.00V318.50H427.00ZM428.00 274.44H429.00V318.50H428.00ZM429.00 272.75H430.00V318.50H429.00ZM430.00 277.98H431.00V318.50H430.00ZM431.00 276.07H432.00V318.50H431.00ZM432.00 275.32H433.00V318.50H432.00ZM433.00 272.48H434.00V318.50H433.00ZM434.00 272.96H435.00V318.50H434.00ZM435.00 273.27H436.00V318.50H435.00ZM436.00 272.53H437.00V318.50H436.00ZM437.00 273.75H438.00V318.50H437.00ZM438.00 274.22H439.00V318.50H438.00ZM439.00 274.30H440.00V318.50H439.00ZM440.00 276.52H441.00V318.50H440.00ZM441.00 277.70H442.00V318.50H441.00ZM442.00 275.41H443.00V318.50H442.00ZM443.00 276.44H444.00V318.50H443.00ZM444.00 278.22H445.00V318.50H444.00ZM445.00 276.61H446.00V318.50H445.00ZM446.00 276.34H447.00V318.50H446.00ZM447.00 279.12H448.00V318.50H447.00ZM448.00 275.59H449.00V318.50H448.00ZM449.00 276.04H450.00V318.50H449.00ZM450.00 273.83H451.00V318.50H450.00ZM451.00 272.44H452.00V318.50H451.00ZM452.00 276.46H453.00V318.50H452.00ZM453.00 279.09H454.00V318.50H453.00ZM454.00 277.85H455.00V318.50H454.00ZM455.00 279.02H456.00V318.50H455.00ZM456.00 283.44H457.00V318.50H456.00ZM457.00 283.12H458.00V318.50H457.00ZM458.00 275.71H459.00V318.50H458.00ZM459.00 280.61H460.00V318.50H459.00ZM460.00 276.19H461.00V318.50H460.00ZM461.00 276.79H462.00V318.50H461.00ZM462.00 278.81H463.00V318.50H462.00ZM463.00 277.94H464.00V318.50H463.00ZM464.00 274.50H465.00V318.50H464.00ZM528.30 274.14H529.00V318.50H528.30ZM529.00 277.13H530.00V318.50H529.00ZM530.00 276.47H531.00V318.50H530.00ZM531.00 273.70H532.00V318.50H531.00ZM532.00 276.11H533.00V318.50H532.00ZM533.00 279.02H534.00V318.50H533.00ZM534.00 272.00H535.00V318.50H534.00ZM535.00 272.13H536.00V318.50H535.00ZM536.00 274.73H537.00V318.50H536.00ZM537.00 273.59H538.00V318.50H537.00ZM538.00 273.22H539.00V318.50H538.00ZM539.00 275.80H540.00V318.50H539.00ZM540.00 280.43H541.00V318.50H540.00ZM541.00 277.45H542.00V318.50H541.00ZM542.00 275.19H543.00V318.50H542.00ZM543.00 279.49H544.00V318.50H543.00ZM544.00 278.59H545.00V318.50H544.00ZM545.00 278.42H546.00V318.50H545.00ZM546.00 280.16H547.00V318.50H546.00ZM547.00 276.35H548.00V318.50H547.00ZM548.00 272.57H549.00V318.50H548.00ZM549.00 274.65H550.00V318.50H549.00ZM550.00 273.76H551.00V318.50H550.00ZM551.00 274.82H552.00V318.50H551.00ZM552.00 272.78H553.00V318.50H552.00ZM553.00 273.82H554.00V318.50H553.00ZM554.00 279.08H555.00V318.50H554.00ZM555.00 272.00H556.00V318.50H555.00ZM556.00 273.50H557.00V318.50H556.00ZM557.00 272.92H558.00V318.50H557.00ZM558.00 272.68H559.00V318.50H558.00ZM559.00 272.72H560.00V318.50H559.00ZM560.00 273.69H561.00V318.50H560.00ZM561.00 274.14H561.80V318.50H561.00Z" fill="#680000"/><rect x="132.30" y="250.435" width="1" height="67.97" fill="#fff" opacity="0.5"/><rect x="136.85" y="250.435" width="1.5" height="67.97" fill="#fff" opacity="1"/><rect x="173.70" y="250.435" width="1" height="67.97" fill="#fff" opacity="0.5"/><rect x="185.90" y="250.435" width="1.8" height="67.97" fill="#fff" opacity="0.95"/><rect x="199.00" y="250.435" width="1" height="67.97" fill="#fff" opacity="0.5"/><rect x="207.95" y="250.435" width="1.1" height="67.97" fill="#fff" opacity="1"/><rect x="210.65" y="250.435" width="1.1" height="67.97" fill="#fff" opacity="0.85"/><rect x="225.80" y="250.435" width="1.2" height="67.97" fill="#fff" opacity="0.5"/><rect x="236.00" y="250.435" width="1" height="67.97" fill="#fff" opacity="0.5"/><rect x="257.00" y="250.435" width="1" height="67.97" fill="#fff" opacity="0.95"/><rect x="262.60" y="250.435" width="1" height="67.97" fill="#fff" opacity="0.3"/><rect x="277.25" y="250.435" width="1" height="67.97" fill="#fff" opacity="0.95"/><rect x="279.50" y="250.435" width="1" height="67.97" fill="#fff" opacity="0.5"/><rect x="294.10" y="250.435" width="1" height="67.97" fill="#fff" opacity="0.5"/><rect x="297.90" y="250.435" width="1" height="67.97" fill="#fff" opacity="0.95"/><rect x="308.50" y="250.435" width="1" height="67.97" fill="#fff" opacity="0.5"/><rect x="312.30" y="250.435" width="1" height="67.97" fill="#fff" opacity="0.85"/><rect x="313.60" y="250.435" width="1" height="67.97" fill="#fff" opacity="0.5"/><rect x="322.60" y="250.435" width="1" height="67.97" fill="#fff" opacity="0.5"/><rect x="330.10" y="250.435" width="1" height="67.97" fill="#fff" opacity="0.5"/><rect x="339.40" y="250.435" width="1.2" height="67.97" fill="#fff" opacity="0.9"/><rect x="366.10" y="250.435" width="1" height="67.97" fill="#fff" opacity="0.3"/><rect x="382.35" y="250.435" width="1.5" height="67.97" fill="#fff" opacity="0.95"/><rect x="390.10" y="250.435" width="1" height="67.97" fill="#fff" opacity="0.8"/><rect x="397.50" y="250.435" width="1" height="67.97" fill="#fff" opacity="0.3"/><rect x="418.25" y="250.435" width="1" height="67.97" fill="#fff" opacity="0.4"/><rect x="434.65" y="250.435" width="1.3" height="67.97" fill="#fff" opacity="0.95"/><rect x="441.00" y="250.435" width="1.2" height="67.97" fill="#fff" opacity="0.5"/><rect x="448.25" y="250.435" width="1" height="67.97" fill="#fff" opacity="0.9"/><rect x="451.85" y="250.435" width="1.3" height="67.97" fill="#fff" opacity="0.95"/><rect x="538.60" y="250.435" width="1" height="67.97" fill="#fff" opacity="0.95"/><rect x="548.50" y="250.435" width="1" height="67.97" fill="#fff" opacity="0.5"/><rect x="550.50" y="250.435" width="1" height="67.97" fill="#fff" opacity="0.9"/><rect x="552.00" y="250.435" width="1" height="67.97" fill="#fff" opacity="0.3"/></g>
<path d="M80.5 250.5H576.5M80.5 331.5H576.5M80.5 250.5V331.5M576.5 250.5V331.5" stroke="#000" stroke-width="1.11" fill="none" stroke-linecap="square"/>
<path d="M122.5 331.5v4.86M177.5 331.5v4.86M233.5 331.5v4.86M288.5 331.5v4.86M343.5 331.5v4.86M398.5 331.5v4.86M453.5 331.5v4.86M508.5 331.5v4.86M563.5 331.5v4.86" stroke="#000" stroke-width="1.11" fill="none"/>
<path d="M80.5 319.5h-4.86M80.5 262.5h-4.86" stroke="#000" stroke-width="1.11" fill="none"/>
<text x="122.5" y="351.50300000000004" font-size="13.889" text-anchor="middle" textLength="59.74" lengthAdjust="spacingAndGlyphs">11-06 15</text>
<text x="177.5" y="351.50300000000004" font-size="13.889" text-anchor="middle" textLength="59.88" lengthAdjust="spacingAndGlyphs">11-06 19</text>
<text x="233.5" y="351.50300000000004" font-size="13.889" text-anchor="middle" textLength="59.62" lengthAdjust="spacingAndGlyphs">11-06 23</text>
<text x="288.5" y="351.50300000000004" font-size="13.889" text-anchor="middle" textLength="59.5" lengthAdjust="spacingAndGlyphs">11-07 03</text>
<text x="343.5" y="351.50300000000004" font-size="13.889" text-anchor="middle" textLength="59.5" lengthAdjust="spacingAndGlyphs">11-07 07</text>
<text x="398.5" y="351.50300000000004" font-size="13.889" text-anchor="middle" textLength="59.75" lengthAdjust="spacingAndGlyphs">11-07 11</text>
<text x="453.5" y="351.50300000000004" font-size="13.889" text-anchor="middle" textLength="59.62" lengthAdjust="spacingAndGlyphs">11-07 15</text>
<text x="508.5" y="351.50300000000004" font-size="13.889" text-anchor="middle" textLength="59.76" lengthAdjust="spacingAndGlyphs">11-07 19</text>
<text x="563.5" y="351.50300000000004" font-size="13.889" text-anchor="middle" textLength="59.5" lengthAdjust="spacingAndGlyphs">11-07 23</text>
<text x="70.3" y="324.9047142857143" font-size="13.889" text-anchor="end">0</text>
<text x="70.3" y="267.51328571428576" font-size="13.889" text-anchor="end">5</text>
<text x="0" y="0" font-size="13.889" text-anchor="middle" textLength="102.75" lengthAdjust="spacingAndGlyphs" transform="translate(51.9 290.60900000000004) rotate(-90)">High flow Volts</text>
<rect x="80" y="346.852" width="496" height="80.34800000000001" fill="#fff"/>
<g clip-path="url(#c3)"><path d="M80 400.4173333333333H577" stroke="#680000" stroke-width="0.7" fill="none"/><rect x="119.8" y="373.33" width="345.20" height="27.38" fill="#680000"/><rect x="528.3" y="373.33" width="33.50" height="27.38" fill="#680000"/><rect x="132.30" y="374.13" width="1" height="25.98" fill="#fff" opacity="0.5"/><rect x="136.85" y="374.13" width="1.5" height="25.98" fill="#fff" opacity="1"/><rect x="173.70" y="374.13" width="1" height="25.98" fill="#fff" opacity="0.5"/><rect x="185.90" y="374.13" width="1.8" height="25.98" fill="#fff" opacity="0.95"/><rect x="199.00" y="374.13" width="1" height="25.98" fill="#fff" opacity="0.5"/><rect x="207.95" y="374.13" width="1.1" height="25.98" fill="#fff" opacity="1"/><rect x="210.65" y="374.13" width="1.1" height="25.98" fill="#fff" opacity="0.85"/><rect x="225.80" y="374.13" width="1.2" height="25.98" fill="#fff" opacity="0.5"/><rect x="236.00" y="374.13" width="1" height="25.98" fill="#fff" opacity="0.5"/><rect x="257.00" y="374.13" width="1" height="25.98" fill="#fff" opacity="0.95"/><rect x="262.60" y="374.13" width="1" height="25.98" fill="#fff" opacity="0.3"/><rect x="277.25" y="374.13" width="1" height="25.98" fill="#fff" opacity="0.95"/><rect x="279.50" y="374.13" width="1" height="25.98" fill="#fff" opacity="0.5"/><rect x="294.10" y="374.13" width="1" height="25.98" fill="#fff" opacity="0.5"/><rect x="297.90" y="374.13" width="1" height="25.98" fill="#fff" opacity="0.95"/><rect x="308.50" y="374.13" width="1" height="25.98" fill="#fff" opacity="0.5"/><rect x="312.30" y="374.13" width="1" height="25.98" fill="#fff" opacity="0.85"/><rect x="313.60" y="374.13" width="1" height="25.98" fill="#fff" opacity="0.5"/><rect x="322.60" y="374.13" width="1" height="25.98" fill="#fff" opacity="0.5"/><rect x="330.10" y="374.13" width="1" height="25.98" fill="#fff" opacity="0.5"/><rect x="339.40" y="374.13" width="1.2" height="25.98" fill="#fff" opacity="0.9"/><rect x="366.10" y="374.13" width="1" height="25.98" fill="#fff" opacity="0.3"/><rect x="382.35" y="374.13" width="1.5" height="25.98" fill="#fff" opacity="0.95"/><rect x="390.10" y="374.13" width="1" height="25.98" fill="#fff" opacity="0.8"/><rect x="397.50" y="374.13" width="1" height="25.98" fill="#fff" opacity="0.3"/><rect x="418.25" y="374.13" width="1" height="25.98" fill="#fff" opacity="0.4"/><rect x="434.65" y="374.13" width="1.3" height="25.98" fill="#fff" opacity="0.95"/><rect x="441.00" y="374.13" width="1.2" height="25.98" fill="#fff" opacity="0.5"/><rect x="448.25" y="374.13" width="1" height="25.98" fill="#fff" opacity="0.9"/><rect x="451.85" y="374.13" width="1.3" height="25.98" fill="#fff" opacity="0.95"/><rect x="538.60" y="374.13" width="1" height="25.98" fill="#fff" opacity="0.95"/><rect x="548.50" y="374.13" width="1" height="25.98" fill="#fff" opacity="0.5"/><rect x="550.50" y="374.13" width="1" height="25.98" fill="#fff" opacity="0.9"/><rect x="552.00" y="374.13" width="1" height="25.98" fill="#fff" opacity="0.3"/></g>
<path d="M80.5 347.5H576.5M80.5 427.5H576.5M80.5 347.5V427.5M576.5 347.5V427.5" stroke="#000" stroke-width="1.11" fill="none" stroke-linecap="square"/>
<path d="M122.5 427.5v4.86M177.5 427.5v4.86M233.5 427.5v4.86M288.5 427.5v4.86M343.5 427.5v4.86M398.5 427.5v4.86M453.5 427.5v4.86M508.5 427.5v4.86M563.5 427.5v4.86" stroke="#000" stroke-width="1.11" fill="none"/>
<path d="M80.5 400.5h-4.86M80.5 347.5h-4.86" stroke="#000" stroke-width="1.11" fill="none"/>
<text x="122.5" y="447.92" font-size="13.889" text-anchor="middle" textLength="59.74" lengthAdjust="spacingAndGlyphs">11-06 15</text>
<text x="177.5" y="447.92" font-size="13.889" text-anchor="middle" textLength="59.88" lengthAdjust="spacingAndGlyphs">11-06 19</text>
<text x="233.5" y="447.92" font-size="13.889" text-anchor="middle" textLength="59.62" lengthAdjust="spacingAndGlyphs">11-06 23</text>
<text x="288.5" y="447.92" font-size="13.889" text-anchor="middle" textLength="59.5" lengthAdjust="spacingAndGlyphs">11-07 03</text>
<text x="343.5" y="447.92" font-size="13.889" text-anchor="middle" textLength="59.5" lengthAdjust="spacingAndGlyphs">11-07 07</text>
<text x="398.5" y="447.92" font-size="13.889" text-anchor="middle" textLength="59.75" lengthAdjust="spacingAndGlyphs">11-07 11</text>
<text x="453.5" y="447.92" font-size="13.889" text-anchor="middle" textLength="59.62" lengthAdjust="spacingAndGlyphs">11-07 15</text>
<text x="508.5" y="447.92" font-size="13.889" text-anchor="middle" textLength="59.76" lengthAdjust="spacingAndGlyphs">11-07 19</text>
<text x="563.5" y="447.92" font-size="13.889" text-anchor="middle" textLength="59.5" lengthAdjust="spacingAndGlyphs">11-07 23</text>
<text x="70.3" y="406.01733333333334" font-size="13.889" text-anchor="end">0</text>
<text x="70.3" y="352.452" font-size="13.889" text-anchor="end">2</text>
<text x="0" y="0" font-size="13.889" text-anchor="middle" textLength="99.87" lengthAdjust="spacingAndGlyphs" transform="translate(51.9 387.02599999999995) rotate(-90)">High flow Bool</text>
<text x="326" y="468.3" font-size="13.889" text-anchor="middle" textLength="79.875" lengthAdjust="spacingAndGlyphs">Date (GMT)</text>
</svg></body></html>
